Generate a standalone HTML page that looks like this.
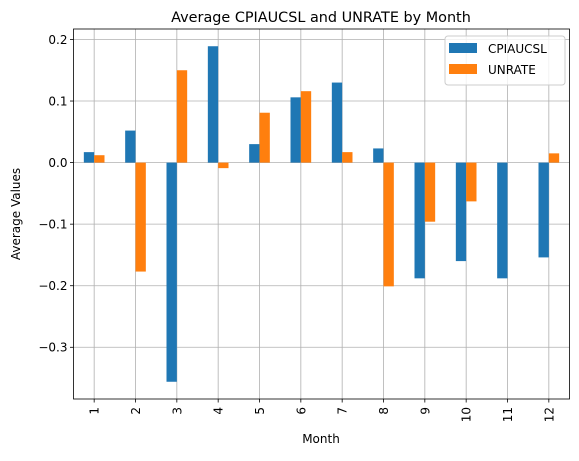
<!DOCTYPE html>
<html><head><meta charset="utf-8"><style>
body{margin:0;background:#fff;}
svg text{font-family:"DejaVu Sans","Liberation Sans",sans-serif;fill:#000;}
</style></head><body>
<svg id="chart" width="579" height="456" viewBox="0 0 579 456" xmlns="http://www.w3.org/2000/svg">
<rect width="579" height="456" fill="#fff"/>
<g id="grid"></g><g id="bars"></g><g id="axes"></g>
<text x="321" y="22" font-size="14.4" text-anchor="middle">Average CPIAUCSL and UNRATE by Month</text>
<text x="321" y="443" font-size="12" text-anchor="middle">Month</text>
<text transform="translate(20,214) rotate(-90)" font-size="12" text-anchor="middle">Average Values</text>
<g>
<rect x="445" y="36" width="120" height="49" rx="3" fill="#fff" fill-opacity="0.8" stroke="#ccc"/>
<rect x="449" y="43" width="28" height="10" fill="#1f77b4"/>
<text x="488" y="53" font-size="12">CPIAUCSL</text>
<rect x="449" y="64" width="28" height="10" fill="#ff7f0e"/>
<text x="488" y="74" font-size="12">UNRATE</text>
</g>
</svg>
<script>
const months=["1","2","3","4","5","6","7","8","9","10","11","12"];
const cpiValues=[0.017,0.052,-0.356,0.189,0.030,0.106,0.130,0.023,-0.188,-0.160,-0.188,-0.154];
const unrateValues=[0.012,-0.177,0.150,-0.009,0.081,0.116,0.017,-0.201,-0.096,-0.063,0.0,0.015];
const yTicks=[-0.3,-0.2,-0.1,0.0,0.1,0.2];
const yTickLabels=["−0.3","−0.2","−0.1","0.0","0.1","0.2"];

const L=73.5,R=569.5,T=29,B=399;
const yMin=-0.384,yMax=0.217;
const ys=v=>T+(yMax-v)/(yMax-yMin)*(B-T);
const step=(R-L)/months.length;
const xs=i=>L+(i+0.5)*step;
const NS="http://www.w3.org/2000/svg";
function mk(tag,attrs,parent){const e=document.createElementNS(NS,tag);for(const k in attrs)e.setAttribute(k,attrs[k]);parent.appendChild(e);return e;}
const grid=document.getElementById('grid'),bars=document.getElementById('bars'),axes=document.getElementById('axes');
months.forEach((m,i)=>{
  const x=xs(i);
  const g=mk('line',{x1:x,x2:x,y1:T,y2:B,stroke:'#b0b0b0','stroke-width':0.8},grid);
  
  
  const t=mk('line',{x1:x,x2:x,y1:B,y2:B+3.5,stroke:'#000','stroke-width':0.8},axes);
  
  
  const lb=mk('text',{transform:`translate(${x+4.5},${B+8}) rotate(-90)`,'font-size':12,'text-anchor':'end'},axes);
  lb.textContent=m;
  
  
});
yTicks.forEach((v,i)=>{
  const y=ys(v);
  const g=mk('line',{x1:L,x2:R,y1:y,y2:y,stroke:'#b0b0b0','stroke-width':0.8},grid);
  
  
  const t=mk('line',{x1:L-3.5,x2:L,y1:y,y2:y,stroke:'#000','stroke-width':0.8},axes);
  
  
  const lb=mk('text',{x:L-6,y:y+4.3,'font-size':12,'text-anchor':'end'},axes);
  lb.textContent=yTickLabels[i];
  
  
});
const bw=step*0.25;
function drawBar(v,x,color,name){
  const y0=ys(0),y1=ys(v);
  const r=mk('rect',{x:x,y:Math.min(y0,y1),width:bw,height:Math.abs(y1-y0),fill:color},bars);
  
  
}
months.forEach((m,i)=>{
  drawBar(cpiValues[i],xs(i)-bw,'#1f77b4','bar-cpiaucsl-'+m);
  drawBar(unrateValues[i],xs(i),'#ff7f0e','bar-unrate-'+m);
});
const fr=mk('rect',{x:L,y:T,width:R-L,height:B-T,fill:'none',stroke:'#000','stroke-width':0.8},axes);


</script>
</body></html>
